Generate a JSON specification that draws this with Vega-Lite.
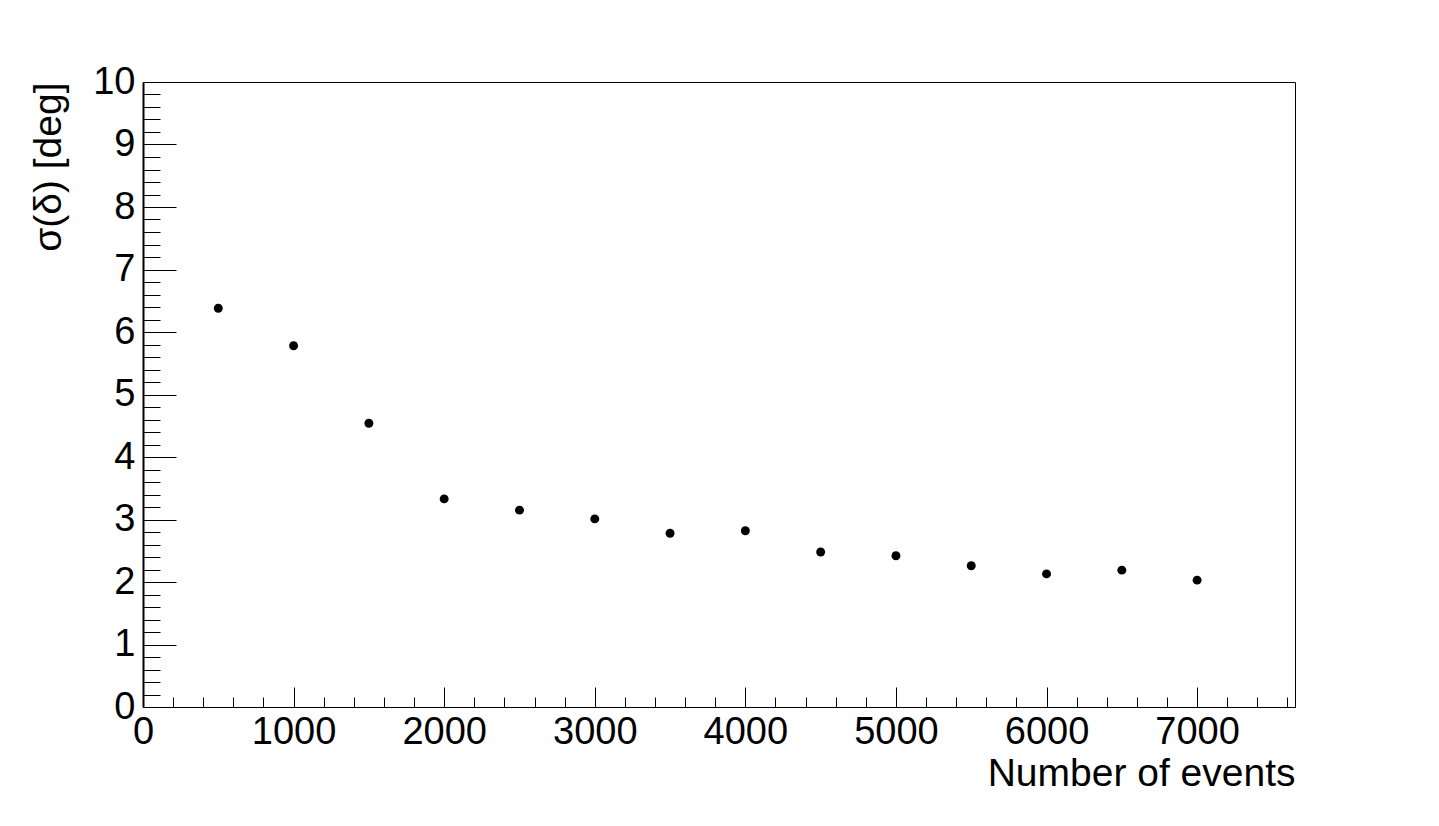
{
  "$schema": "https://vega.github.io/schema/vega-lite/v6.json",
  "width": 1152,
  "height": 625,
  "autosize": "none",
  "padding": {"left": 143, "top": 82, "right": 144, "bottom": 119},
  "background": "white",
  "config": {
    "view": {"stroke": "black", "strokeWidth": 1},
    "axis": {
      "labelFont": "Liberation Sans",
      "titleFont": "Liberation Sans",
      "labelFontSize": 38,
      "titleFontSize": 39,
      "labelColor": "black",
      "titleColor": "black",
      "domainColor": "black",
      "tickColor": "black",
      "grid": false,
      "titleFontWeight": "normal",
      "labelFlush": false,
      "labelOverlap": false,
      "labelBound": false
    }
  },
  "data": {
    "values": [
      {"events": 500, "sigma": 6.38},
      {"events": 1000, "sigma": 5.78},
      {"events": 1500, "sigma": 4.54},
      {"events": 2000, "sigma": 3.33},
      {"events": 2500, "sigma": 3.15},
      {"events": 3000, "sigma": 3.01},
      {"events": 3500, "sigma": 2.78},
      {"events": 4000, "sigma": 2.82},
      {"events": 4500, "sigma": 2.48},
      {"events": 5000, "sigma": 2.42},
      {"events": 5500, "sigma": 2.26},
      {"events": 6000, "sigma": 2.13},
      {"events": 6500, "sigma": 2.19},
      {"events": 7000, "sigma": 2.03}
    ]
  },
  "layer": [
    {
      "mark": {"type": "circle", "size": 80, "color": "black", "opacity": 1},
      "encoding": {
        "x": {
          "field": "events", "type": "quantitative",
          "scale": {"domain": [0, 7650], "nice": false, "zero": false},
          "axis": {
            "orient": "bottom",
            "values": [0, 1000, 2000, 3000, 4000, 5000, 6000, 7000],
            "tickSize": -20, "tickWidth": 1, "labelPadding": 26, "format": "d",
            "title": "Number of events",
            "titleX": 1152, "titleY": 78, "titleAlign": "right", "titleBaseline": "alphabetic",
            "domainWidth": 1
          }
        },
        "y": {
          "field": "sigma", "type": "quantitative",
          "scale": {"domain": [0, 10], "nice": false},
          "axis": {
            "orient": "left",
            "values": [0, 1, 2, 3, 4, 5, 6, 7, 8, 9, 10],
            "tickSize": -33, "tickWidth": 1, "labelPadding": 41, "format": "d",
            "title": "σ(δ) [deg]",
            "titleX": -83, "titleY": 0, "titleAngle": -90, "titleAlign": "right", "titleBaseline": "alphabetic",
            "domainWidth": 2
          }
        }
      }
    },
    {
      "mark": {"type": "circle", "opacity": 0},
      "encoding": {
        "x": {
          "field": "events", "type": "quantitative",
          "scale": {"domain": [0, 7650], "nice": false, "zero": false},
          "axis": {
            "orient": "bottom",
            "values": [200, 400, 600, 800, 1200, 1400, 1600, 1800, 2200, 2400, 2600, 2800, 3200, 3400, 3600, 3800, 4200, 4400, 4600, 4800, 5200, 5400, 5600, 5800, 6200, 6400, 6600, 6800, 7200, 7400, 7600],
            "tickSize": -10, "tickWidth": 1, "labels": false, "domain": false, "title": null
          }
        },
        "y": {
          "field": "sigma", "type": "quantitative",
          "scale": {"domain": [0, 10], "nice": false},
          "axis": {
            "orient": "left",
            "values": [0.2, 0.4, 0.6, 0.8, 1.2, 1.4, 1.6, 1.8, 2.2, 2.4, 2.6, 2.8, 3.2, 3.4, 3.6, 3.8, 4.2, 4.4, 4.6, 4.8, 5.2, 5.4, 5.6, 5.8, 6.2, 6.4, 6.6, 6.8, 7.2, 7.4, 7.6, 7.8, 8.2, 8.4, 8.6, 8.8, 9.2, 9.4, 9.6, 9.8],
            "tickSize": -17, "tickWidth": 1, "labels": false, "domain": false, "title": null
          }
        }
      }
    }
  ],
  "resolve": {"axis": {"x": "independent", "y": "independent"}, "scale": {"x": "shared", "y": "shared"}}
}
